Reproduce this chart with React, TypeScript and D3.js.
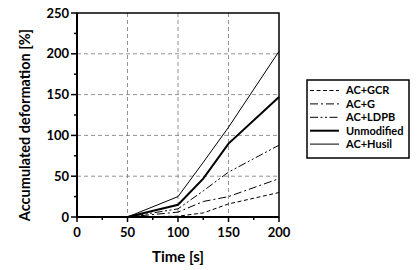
import React from "react";
import * as d3 from "d3";

const times = [0, 50, 100, 125, 150, 200];
const acGcr = [0, 0, 1, 5, 16, 30];
const acG = [0, 0, 6, 19, 25, 47];
const acLdpb = [0, 0, 10, 32, 55, 88];
const unmodified = [0, 0, 15, 47, 90, 147];
const acHusil = [0, 0, 25, 67, 110, 203];

const xTicks = [0, 50, 100, 150, 200];
const yTicks = [0, 50, 100, 150, 200, 250];
const xMinor = [25, 75, 125, 175];
const yMinor = [25, 75, 125, 175, 225];

const seriesNames = ["AC+GCR", "AC+G", "AC+LDPB", "Unmodified", "AC+Husil"];
const seriesValues = [acGcr, acG, acLdpb, unmodified, acHusil];
const dashes = ["4,2.5", "8,3,2,3", "8,2.5,2,2.5,2,2.5", "", ""];
const widths = [1, 1, 1, 2, 1];

const FONT = "Lato, 'Open Sans', sans-serif";

export default function App() {
  const W = 417, H = 270;
  const left = 77, right = 279, top = 13, bottom = 217;
  const x = d3.scaleLinear().domain([0, 200]).range([left, right]);
  const y = d3.scaleLinear().domain([0, 250]).range([bottom, top]);
  const line = d3
    .line<number>()
    .x((_, i) => x(times[i]))
    .y((d) => y(d));

  const legX = 307, legY = 80, legW = 102, legH = 78;
  return (
    <svg
      width={W}
      height={H}
      style={{ position: "absolute", left: 0, top: 0, background: "#fff" }}
    >
      <rect x={0} y={0} width={W} height={H} fill="#fff" />
      {/* grid */}
      {xTicks.slice(1, -1).map((t) => (
        <line key={"gx" + t} x1={x(t)} x2={x(t)} y1={top} y2={bottom}
          stroke="#777" strokeWidth={0.8} strokeDasharray="4,3" />
      ))}
      {yTicks.slice(1, -1).map((t) => (
        <line key={"gy" + t} x1={left} x2={right} y1={y(t)} y2={y(t)}
          stroke="#777" strokeWidth={0.8} strokeDasharray="4,3" />
      ))}
      {/* series */}
      {seriesValues.map((vals, i) => (
        <path key={seriesNames[i]} d={line(vals) || ""} fill="none" stroke="#000"
          strokeWidth={widths[i]} strokeDasharray={dashes[i] || undefined} />
      ))}
      {/* frame */}
      <rect x={left} y={top} width={right - left} height={bottom - top}
        fill="none" stroke="#000" strokeWidth={1.5} />
      <line x1={left} x2={left} y1={top} y2={bottom} stroke="#000" strokeWidth={2} />
      <line x1={left} x2={right} y1={bottom} y2={bottom} stroke="#000" strokeWidth={2} />
      {/* ticks */}
      {yTicks.map((t) => (
        <g key={"yt" + t}>
          <line x1={left - 6} x2={left} y1={y(t)} y2={y(t)} stroke="#000" strokeWidth={1.5} />
          <text x={left - 8} y={y(t)} dy="0.35em" textAnchor="end"
            fontFamily={FONT} fontWeight={700} fontSize={13}>{t}</text>
        </g>
      ))}
      {yMinor.map((t) => (
        <line key={"ym" + t} x1={left - 3} x2={left} y1={y(t)} y2={y(t)} stroke="#000" strokeWidth={1.5} />
      ))}
      {xTicks.map((t) => (
        <g key={"xt" + t}>
          <line x1={x(t)} x2={x(t)} y1={bottom} y2={bottom + 5} stroke="#000" strokeWidth={1.5} />
          <text x={x(t)} y={bottom + 20} textAnchor="middle"
            fontFamily={FONT} fontWeight={700} fontSize={13}>{t}</text>
        </g>
      ))}
      {xMinor.map((t) => (
        <line key={"xm" + t} x1={x(t)} x2={x(t)} y1={bottom} y2={bottom + 3} stroke="#000" strokeWidth={1.5} />
      ))}
      {/* axis titles */}
      <text x={(left + right) / 2} y={262} textAnchor="middle"
        fontFamily={FONT} fontWeight={700} fontSize={15}>Time [s]</text>
      <text transform={`translate(30,${(top + bottom) / 2 + 10}) rotate(-90)`} textAnchor="middle"
        fontFamily={FONT} fontWeight={700} fontSize={14.5}>Accumulated deformation [%]</text>
      {/* legend */}
      <rect x={legX} y={legY} width={legW} height={legH} fill="#fff" stroke="#000" strokeWidth={1.5} />
      {seriesNames.map((n, i) => {
        const yy = legY + 10.5 + i * 13.4;
        return (
          <g key={"lg" + n}>
            <line x1={legX + 3} x2={legX + 32} y1={yy} y2={yy} stroke="#000"
              strokeWidth={widths[i]} strokeDasharray={dashes[i] || undefined} />
            <text x={legX + 39} y={yy} dy="0.35em" fontFamily={FONT} fontWeight={700}
              fontSize={11}>{n}</text>
          </g>
        );
      })}
    </svg>
  );
}
